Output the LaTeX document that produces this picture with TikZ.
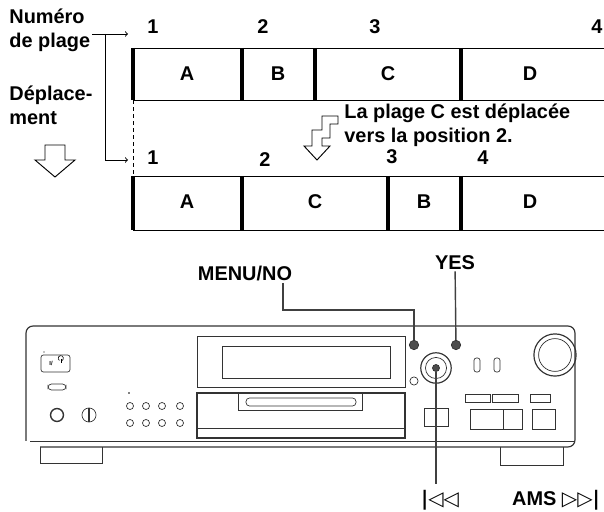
\documentclass[tikz,border=0pt]{standalone}
\usepackage{fontspec}
\setmainfont{Liberation Sans}
\newfontfamily\symfont{DejaVu Sans}
\begin{document}
\begin{tikzpicture}[x=0.03cm,y=-0.03cm,
    lbl/.style={font=\fontsize{17}{21}\selectfont\bfseries,inner sep=1pt},
    bar/.style={line width=3pt},
    strip/.style={line width=0.8pt},
    dev/.style={line width=0.6pt,draw=black!80},
    knob/.style={dev,circle,inner sep=0pt},
    lead/.style={line width=1.2pt,draw=black!75}]
  \useasboundingbox (0,0) rectangle (604,512);
  % labels on the left
  \node[lbl,align=left,anchor=north west] (num) at (8,7) {Numéro\\de plage};
  \node[lbl,align=left,anchor=north west] (dep) at (8,84) {Déplace-\\ment};
  \draw[line width=0.8pt] (45,145) -- (65,145) -- (65,160) -- (75,160) -- (55,177) -- (35,160) -- (45,160) -- cycle;
  \coordinate (t1) at (128,34);
  \coordinate (t2) at (128,160);
  \draw[->,line width=0.8pt] (92,34) -- (t1);
  \draw[->,line width=0.8pt] (105,34) |- (t2);
  % top strip
  \draw[strip] (133,48) -- (604,48) (133,100) -- (604,100);
  \foreach \x in {133,242,315,461} \draw[bar] (\x,48) -- (\x,100);
  \foreach \x/\t in {153/1,263/2,375/3,597/4} \node[lbl] (n\t) at (\x,27) {\t};
  \foreach \x/\t in {187/A,278/B,388/C,530/D} \node[lbl] (u\t) at (\x,74) {\t};
  \draw[dashed,line width=0.6pt] (133,100) -- (133,176);
  % bottom strip
  \draw[strip] (133,176) -- (604,176) (133,230) -- (604,230);
  \foreach \x in {133,242,388,461} \draw[bar] (\x,176) -- (\x,230);
  \foreach \x/\y/\t in {153/158/1,265/160/2,392/157/3,483/158/4} \node[lbl] (m\t) at (\x,\y) {\t};
  \foreach \x/\t in {187/A,315/C,424/B,530/D} \node[lbl] (v\t) at (\x,202) {\t};
  \node[lbl,align=left,anchor=north west] (note) at (343,102) {La plage C est déplacée\\vers la position 2.};
  \draw[line width=0.8pt,fill=white] (322,116) -- (338,116) -- (338,124) -- (330,124) -- (330,138) -- (322,138) -- (322,146) -- (330,146) -- (317,160) -- (304,146) -- (312,146) -- (312,130) -- (322,130) -- cycle;
  % device
  \draw[dev,line width=1pt,rounded corners=6pt] (26,441) -- (26,326) -- (575,326) -- (575,447) -- (40,447);
  \draw[dev] (30,441) -- (575,441);
  \draw[dev] (40,447) -- (40,463) -- (102,463) -- (102,447);
  \draw[dev] (500,447) -- (500,465) -- (563,465) -- (563,447);
  \draw[dev,rounded corners=2pt] (41,355) rectangle (70,372);
  \node[font=\tiny\bfseries,inner sep=0pt] (pw) at (51,363.5) {I/};
  \draw[line width=0.5pt] (59.5,360.5) arc[start angle=120,end angle=420,radius=2.6];
  \draw[line width=0.5pt] (61,359) -- (61,363.5);
  \fill (44,352) circle (0.7);
  \draw[dev,rounded corners=3pt] (48,384) rectangle (66,390);
  \node[knob,minimum size=11pt,line width=1.2pt] (jack) at (57,415) {};
  \node[knob,minimum size=12pt] (vol) at (89,415) {};
  \draw[dev,line width=1pt] (89,408) -- (89,422);
  \fill (129,393) circle (0.8);
  \foreach \i/\x in {0/130,1/146,2/162,3/180} {
    \node[knob,minimum size=6pt] (ka\i) at (\x,406) {};
    \node[knob,minimum size=6pt] (kb\i) at (\x,423) {};
  }
  \draw[dev] (197,336) rectangle (405,387);
  \draw[dev] (222,346) rectangle (390,378);
  \draw[dev,line width=0.9pt] (197,393) rectangle (405,438);
  \draw[dev] (197,428) -- (405,428);
  \draw[dev] (238,393) rectangle (362,410);
  \draw[dev,rounded corners=3pt] (246,398) rectangle (356,406);
  % control area
  \node[knob,fill=black!70,minimum size=8pt] (menu) at (414,345) {};
  \node[knob,fill=black!70,minimum size=8pt] (yes) at (456,345) {};
  \node[knob,minimum size=26pt,line width=1pt] (jog) at (436,368) {};
  \node[knob,minimum size=18pt] (jogi) at (436,368) {};
  \node[knob,fill=black!70,minimum size=6pt] (jogc) at (436,368) {};
  \node[knob,minimum size=7pt] (led) at (414,381) {};
  \foreach \x in {477,497} \draw[dev,rounded corners=2pt] (\x-3,358) rectangle (\x+3,372);
  \node[knob,minimum size=36pt,line width=1pt] (big) at (555,355) {};
  \node[knob,minimum size=28pt] (bigi) at (555,355) {};
  \draw[dev] (465,394) rectangle (490,402) (492,394) rectangle (518,402) (530,394) rectangle (550,402);
  \draw[dev] (424,408) rectangle (448,426);
  \draw[dev] (470,409) rectangle (503,429) (503,409) rectangle (522,429) (532,409) rectangle (555,429);
  % leaders
  \node[lbl] (menulbl) at (245,273) {MENU/NO};
  \node[lbl] (yeslbl) at (455,263) {YES};
  \node[lbl] (prevlbl) at (440,500) {\symfont |◁◁};
  \node[lbl] (nextlbl) at (556,500) {AMS {\symfont ▷▷|}};
  \draw[lead] (283,283) |- (414,310) -- (menu);
  \draw[lead] (yeslbl) -- (yes);
  \draw[lead] (jogc) -- (436,484);
\end{tikzpicture}
\end{document}
